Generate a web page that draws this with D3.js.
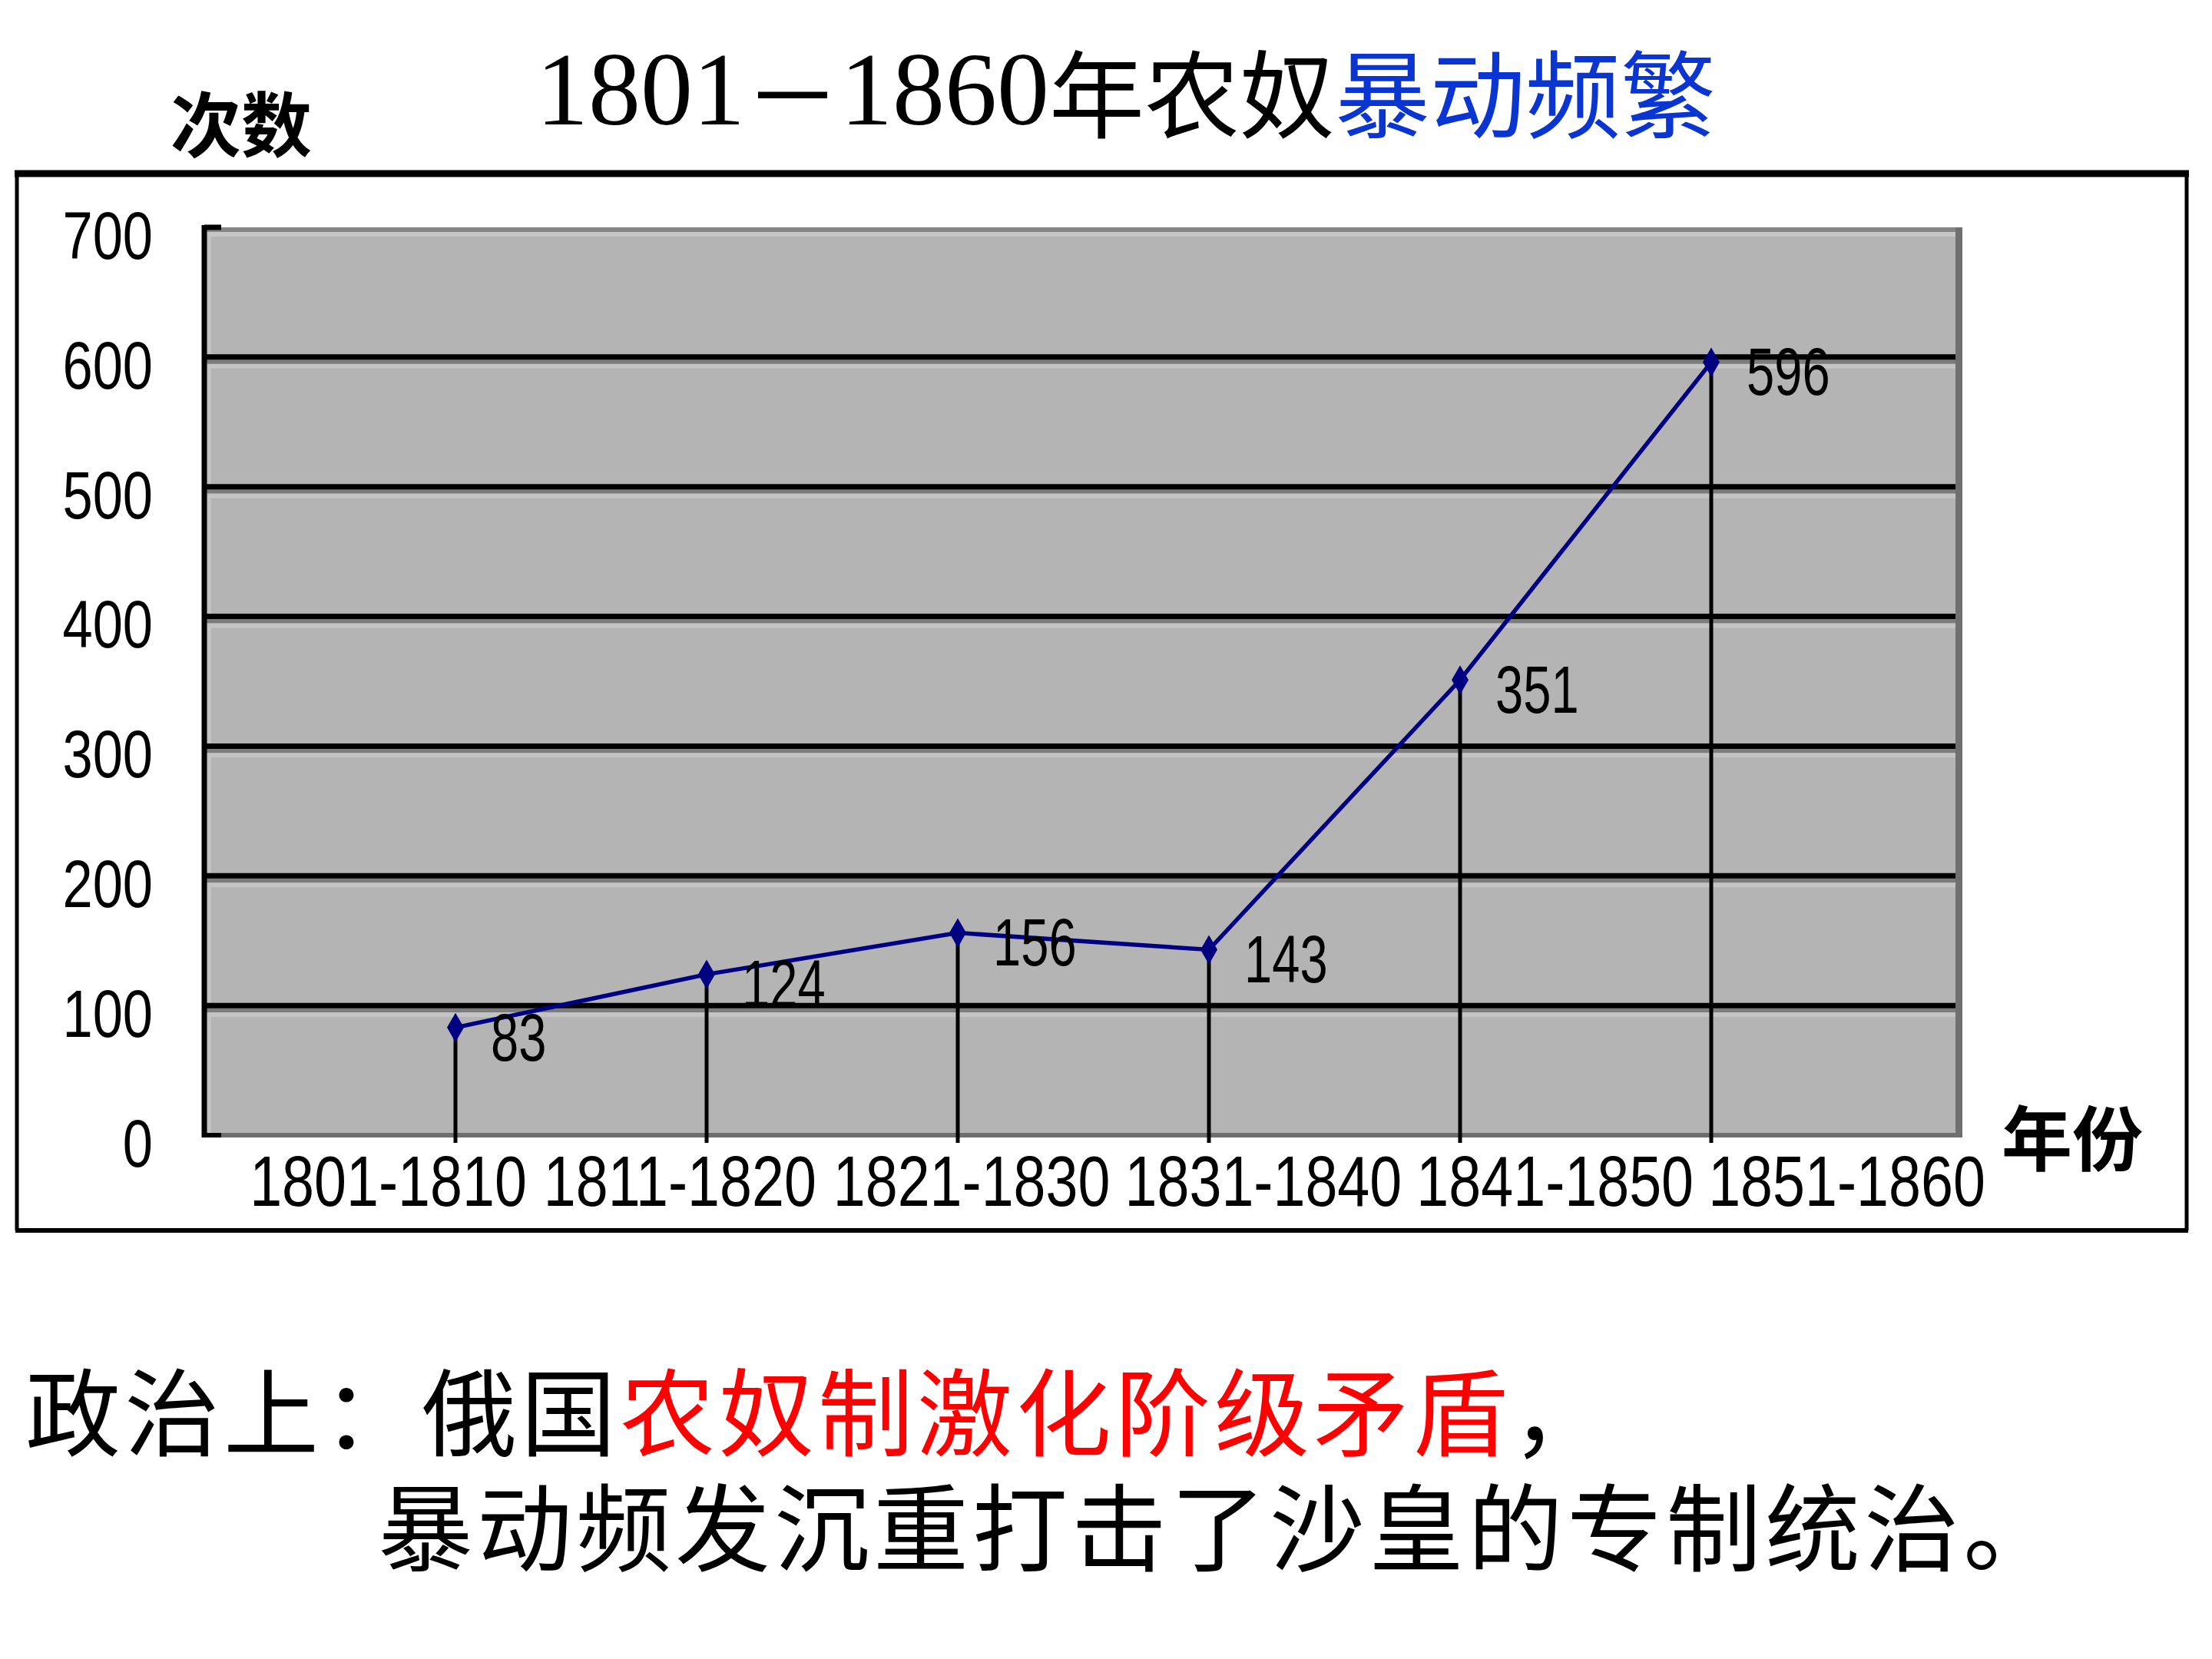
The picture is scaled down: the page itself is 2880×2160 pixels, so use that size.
<!DOCTYPE html>
<html>
<head>
<meta charset="utf-8">
<script src="https://cdn.jsdelivr.net/npm/d3@7"></script>
<style>
  html, body { margin: 0; padding: 0; background: #ffffff; }
  svg { display: block; }
</style>
</head>
<body>
<script>
// ---------- DATA ----------
const categories = ["1801-1810", "1811-1820", "1821-1830", "1831-1840", "1841-1850", "1851-1860"];
const values = [83, 124, 156, 143, 351, 596];
const yTicks = [0, 100, 200, 300, 400, 500, 600, 700];
const gridValues = [100, 200, 300, 400, 500, 600];
const titleParts = [
  { text: "1801", color: "#000000", digits: true },
  { text: "－", color: "#000000", digits: false },
  { text: "1860", color: "#000000", digits: true },
  { text: "年农奴", color: "#000000", digits: false },
  { text: "暴动频繁", color: "#0b35d0", digits: false }
];
const yAxisTitle = "次数";
const xAxisTitle = "年份";
const line1Parts = [
  { text: "政治上：俄国", color: "#000000" },
  { text: "农奴制激化阶级矛盾", color: "#ff0000" },
  { text: "，", color: "#000000" }
];
const line2Text = "暴动频发沉重打击了沙皇的专制统治。";

// ---------- LAYOUT ----------
const W = 2880, H = 2160;
const plot = { left: 266, right: 2555, top: 296, bottom: 1478 };
const cjk = "'Noto Sans CJK SC', sans-serif";
const numFont = "'Liberation Sans', Arial, sans-serif";

const svg = d3.select("body").append("svg")
  .attr("width", W).attr("height", H);

// Scales
const y = d3.scaleLinear().domain([0, 700]).range([plot.bottom, plot.top]);
const x = d3.scalePoint().domain(categories).range([plot.left, plot.right]).padding(1);
const xLabel = d3.scalePoint().domain(categories).range([505, 2404]);

// Outer frame
const frame = { l: 22, t: 226, r: 2847, b: 1602 };
svg.append("line").attr("x1", frame.l - 3).attr("x2", frame.r + 3).attr("y1", frame.t).attr("y2", frame.t)
  .attr("stroke", "#000").attr("stroke-width", 9);
svg.append("line").attr("x1", frame.l).attr("x2", frame.l).attr("y1", frame.t).attr("y2", frame.b)
  .attr("stroke", "#000").attr("stroke-width", 5);
svg.append("line").attr("x1", frame.r).attr("x2", frame.r).attr("y1", frame.t).attr("y2", frame.b)
  .attr("stroke", "#000").attr("stroke-width", 5);
svg.append("line").attr("x1", frame.l - 2).attr("x2", frame.r + 2).attr("y1", frame.b).attr("y2", frame.b)
  .attr("stroke", "#000").attr("stroke-width", 6);

// Plot background
svg.append("rect")
  .attr("x", plot.left).attr("y", plot.top)
  .attr("width", plot.right - plot.left).attr("height", plot.bottom - plot.top)
  .attr("fill", "#b4b4b4");
svg.append("rect").attr("x", plot.left + 3).attr("y", plot.top).attr("width", 6)
  .attr("height", plot.bottom - plot.top).attr("fill", "#c2c2c2");
svg.append("rect").attr("x", plot.left).attr("y", plot.top).attr("width", plot.right - plot.left)
  .attr("height", 6).attr("fill", "#858585");
svg.append("rect").attr("x", plot.left).attr("y", plot.top + 6).attr("width", plot.right - plot.left)
  .attr("height", 6).attr("fill", "#c6c6c6");
svg.append("rect").attr("x", plot.right - 9).attr("y", plot.top).attr("width", 9)
  .attr("height", plot.bottom - plot.top).attr("fill", "#707070");
svg.append("rect").attr("x", plot.left).attr("y", plot.bottom - 3).attr("width", plot.right - plot.left)
  .attr("height", 6).attr("fill", "#6e6e6e");

// Gridlines with embossed shading
const grid = svg.append("g");
gridValues.forEach(v => {
  const yy = y(v);
  grid.append("rect").attr("x", plot.left).attr("y", yy + 3).attr("width", plot.right - plot.left - 9)
    .attr("height", 6).attr("fill", "#7c7c7c");
  grid.append("rect").attr("x", plot.left).attr("y", yy + 9).attr("width", plot.right - plot.left - 9)
    .attr("height", 6).attr("fill", "#c4c4c4");
  grid.append("line").attr("x1", plot.left).attr("x2", plot.right - 9).attr("y1", yy).attr("y2", yy)
    .attr("stroke", "#000").attr("stroke-width", 7);
});

// Left border (black)
svg.append("line").attr("x1", plot.left).attr("x2", plot.left).attr("y1", plot.top - 3).attr("y2", plot.bottom + 3)
  .attr("stroke", "#000").attr("stroke-width", 7);
svg.append("line").attr("x1", plot.left).attr("x2", plot.left + 22).attr("y1", plot.top).attr("y2", plot.top)
  .attr("stroke", "#000").attr("stroke-width", 7);
svg.append("line").attr("x1", plot.left).attr("x2", plot.left + 22).attr("y1", plot.bottom).attr("y2", plot.bottom)
  .attr("stroke", "#000").attr("stroke-width", 6);

// Drop lines
svg.append("g").selectAll("line").data(values).join("line")
  .attr("x1", (d, i) => x(categories[i])).attr("x2", (d, i) => x(categories[i]))
  .attr("y1", d => y(d)).attr("y2", plot.bottom + 10)
  .attr("stroke", "#000").attr("stroke-width", 5);

// Series line
const lineGen = d3.line().x((d, i) => x(categories[i])).y(d => y(d));
svg.append("path").datum(values)
  .attr("d", lineGen)
  .attr("fill", "none").attr("stroke", "#000080").attr("stroke-width", 5.5);

// Markers
svg.append("g").selectAll("path").data(values).join("path")
  .attr("transform", (d, i) => `translate(${x(categories[i])},${y(d)})`)
  .attr("d", d3.symbol().type(d3.symbolDiamond).size(420))
  .attr("fill", "#000080");

// Data labels
svg.append("g").selectAll("text").data(values).join("text")
  .attr("transform", (d, i) => `translate(${x(categories[i]) + 46},${y(d) + 12}) scale(0.74,1)`)
  .attr("dominant-baseline", "central")
  .attr("font-family", numFont).attr("font-size", 88)
  .attr("fill", "#000")
  .text(d => d);

// Y axis
const yAxis = svg.append("g").attr("transform", "translate(199,0)")
  .call(d3.axisLeft(y).tickValues(yTicks).tickSize(0).tickPadding(0));
yAxis.select(".domain").remove();
yAxis.selectAll("text")
  .attr("x", 0).attr("dy", null)
  .attr("transform", "translate(0,10) scale(0.8,1)")
  .attr("dominant-baseline", "central")
  .attr("text-anchor", "end")
  .attr("font-family", numFont).attr("font-size", 88).attr("fill", "#000");

// X axis
const xAxis = svg.append("g").attr("transform", "translate(0,1538)")
  .call(d3.axisBottom(xLabel).tickSize(0).tickPadding(0));
xAxis.select(".domain").remove();
xAxis.selectAll("text")
  .attr("y", 0).attr("dy", null)
  .attr("transform", "scale(0.82,1)")
  .attr("dominant-baseline", "central")
  .attr("text-anchor", "middle")
  .attr("font-family", numFont).attr("font-size", 92).attr("fill", "#000");

// Title
const title = svg.append("text")
  .attr("x", 698).attr("y", 116)
  .attr("dominant-baseline", "central")
  .attr("font-size", 124);
titleParts.forEach(p => {
  title.append("tspan")
    .attr("fill", p.color)
    .attr("font-family", p.digits ? "'Liberation Serif', 'Times New Roman', serif" : cjk)
    .attr("font-size", p.digits ? 136 : 124)
    .text(p.text);
});

// Axis titles
svg.append("text").attr("x", 222).attr("y", 156)
  .attr("dominant-baseline", "central")
  .attr("font-family", cjk).attr("font-weight", "bold").attr("font-size", 92)
  .text(yAxisTitle);
svg.append("text").attr("x", 2606).attr("y", 1476)
  .attr("dominant-baseline", "central")
  .attr("font-family", cjk).attr("font-weight", "bold").attr("font-size", 92)
  .text(xAxisTitle);

// Bottom text
const l1 = svg.append("text").attr("x", 33).attr("y", 1832)
  .attr("dominant-baseline", "central")
  .attr("font-family", cjk).attr("font-size", 124).attr("font-weight", 400)
  .attr("letter-spacing", 5);
line1Parts.forEach(p => l1.append("tspan").attr("fill", p.color).text(p.text));
svg.append("text").attr("x", 492).attr("y", 1982)
  .attr("dominant-baseline", "central")
  .attr("font-family", cjk).attr("font-size", 124).attr("font-weight", 400)
  .attr("letter-spacing", 5)
  .attr("fill", "#000")
  .text(line2Text);
</script>
</body>
</html>
